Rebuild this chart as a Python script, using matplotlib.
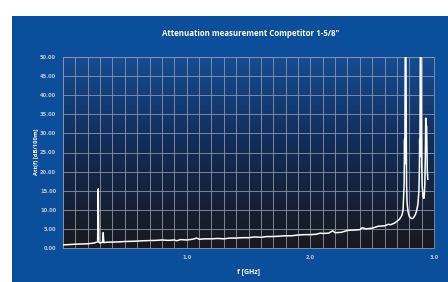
import numpy as np
import matplotlib
matplotlib.use('Agg')
import matplotlib.pyplot as plt
from matplotlib.patches import Rectangle

title = 'Attenuation measurement Competitor 1-5/8"'
x_label = 'f [GHz]'
y_label = 'Att(f) [dB/100m]'

freq_ghz = [
    0.00, 0.05, 0.10, 0.15, 0.20, 0.25, 0.27, 0.28, 0.285, 0.29,
    0.30, 0.31, 0.32, 0.325, 0.33, 0.35, 0.40, 0.45, 0.50, 0.55,
    0.60, 0.65, 0.70, 0.75, 0.80, 0.85, 0.90, 0.92, 0.95, 1.00,
    1.05, 1.08, 1.10, 1.15, 1.20, 1.25, 1.30, 1.35, 1.40, 1.45,
    1.50, 1.55, 1.60, 1.65, 1.70, 1.75, 1.80, 1.85, 1.90, 1.95,
    2.00, 2.05, 2.08, 2.10, 2.15, 2.18, 2.20, 2.25, 2.30, 2.35,
    2.40, 2.42, 2.45, 2.50, 2.55, 2.60, 2.63, 2.65, 2.68, 2.70,
    2.72, 2.74, 2.75, 2.755, 2.758, 2.762, 2.764, 2.766, 2.768, 2.772,
    2.776, 2.778, 2.782, 2.79, 2.80, 2.81, 2.82, 2.83, 2.84, 2.85,
    2.86, 2.87, 2.878, 2.882, 2.884, 2.886, 2.888, 2.890, 2.894, 2.897,
    2.900, 2.905, 2.912, 2.918, 2.922, 2.926, 2.930, 2.933, 2.936, 2.939,
    2.942, 2.946, 2.95,
]
att_db = [
    0.8, 0.9, 1.0, 1.05, 1.1, 1.3, 1.5, 1.6, 15.5, 1.5,
    1.3, 1.4, 1.5, 4.0, 1.4, 1.5, 1.55, 1.6, 1.7, 1.75,
    1.8, 1.9, 1.95, 2.0, 2.1, 2.0, 2.1, 1.9, 2.2, 2.1,
    2.3, 2.6, 2.3, 2.4, 2.4, 2.5, 2.4, 2.6, 2.6, 2.7,
    2.7, 2.9, 2.8, 3.0, 3.0, 3.1, 3.2, 3.2, 3.4, 3.5,
    3.5, 3.6, 3.9, 3.8, 3.9, 4.5, 4.0, 4.1, 4.6, 4.7,
    4.8, 5.3, 5.0, 5.2, 5.7, 5.8, 6.2, 6.1, 6.5, 7.0,
    7.5, 8.5, 10.0, 14.0, 16.0, 28.5, 22.0, 40.0, 60.0, 60.0,
    30.0, 17.0, 12.0, 9.5, 8.3, 7.9, 7.7, 7.8, 8.2, 8.8,
    9.8, 11.5, 15.0, 21.0, 28.5, 24.0, 40.0, 60.0, 60.0, 35.0,
    22.0, 16.0, 13.5, 13.0, 14.0, 17.0, 24.0, 34.0, 26.0, 32.0,
    28.0, 20.0, 18.0,
]

y_ticks = [0, 5, 10, 15, 20, 25, 30, 35, 40, 45, 50]
x_ticks = [1.0, 2.0, 3.0]

W, H = 448, 282
fig = plt.figure(figsize=(W / 100, H / 100), dpi=100, facecolor='white')

# blue panel
fig.patches.append(Rectangle((12 / W, 0), 1 - 12 / W, 1 - 16 / H,
                             transform=fig.transFigure, facecolor='#0a4e9c',
                             edgecolor='none', zorder=-1))

ax = fig.add_axes([63 / W, 1 - 248 / H, (434 - 63) / W, (248 - 57) / H])
ax.set_zorder(2)
ax.set_facecolor('none')

# vertical gradient behind the plot area (blue -> navy -> near black)
stops = np.array([0.0, 0.5, 1.0])
cols = np.array([[0x16, 0x4c, 0x92], [0x12, 0x2a, 0x52], [0x18, 0x19, 0x1d]]) / 255
t = np.linspace(0, 1, 256)
grad = np.stack([np.interp(t, stops, cols[:, k]) for k in range(3)], axis=-1)
grad = grad[:, None, :].repeat(2, axis=1)
ax.imshow(grad, extent=[0, 1, 0, 1], transform=ax.transAxes,
          aspect='auto', zorder=0)

ax.set_xlim(0, 3.0)
ax.set_ylim(0, 50)

ax.set_xticks(np.arange(0, 3.01, 0.1), minor=True)
ax.set_xticks(x_ticks)
ax.set_xticklabels(['%.1f' % v for v in x_ticks])
ax.set_yticks(y_ticks)
ax.set_yticklabels(['%.2f' % v for v in y_ticks])

grid_c = '#8c95a8'
ax.grid(True, which='both', axis='x', color=grid_c, linewidth=0.6, zorder=1)
ax.grid(True, which='major', axis='y', color=grid_c, linewidth=0.6, zorder=1)
for s in ax.spines.values():
    s.set_color(grid_c)
    s.set_linewidth(0.6)
ax.tick_params(which='both', length=0, colors='#c0c8d8', labelsize=3.7, pad=5)
for lab in ax.get_xticklabels() + ax.get_yticklabels():
    lab.set_fontweight('bold')

ax.plot(freq_ghz, att_db, color='white', linewidth=1.1, zorder=3,
        solid_joinstyle='round')

fig.text(251 / W, 1 - 33 / H, title, ha='center', va='center',
         color='white', fontsize=5.7, fontweight='bold', family='Open Sans')
fig.text(248 / W, 1 - 272 / H, x_label, ha='center', va='center',
         color='white', fontsize=5, fontweight='bold', family='Open Sans')
fig.text(36 / W, 1 - 152 / H, y_label, ha='center', va='center',
         rotation=90, color='white', fontsize=4.2, fontweight='bold',
         family='Open Sans')

fig.savefig('out.png', dpi=100, facecolor='white')
